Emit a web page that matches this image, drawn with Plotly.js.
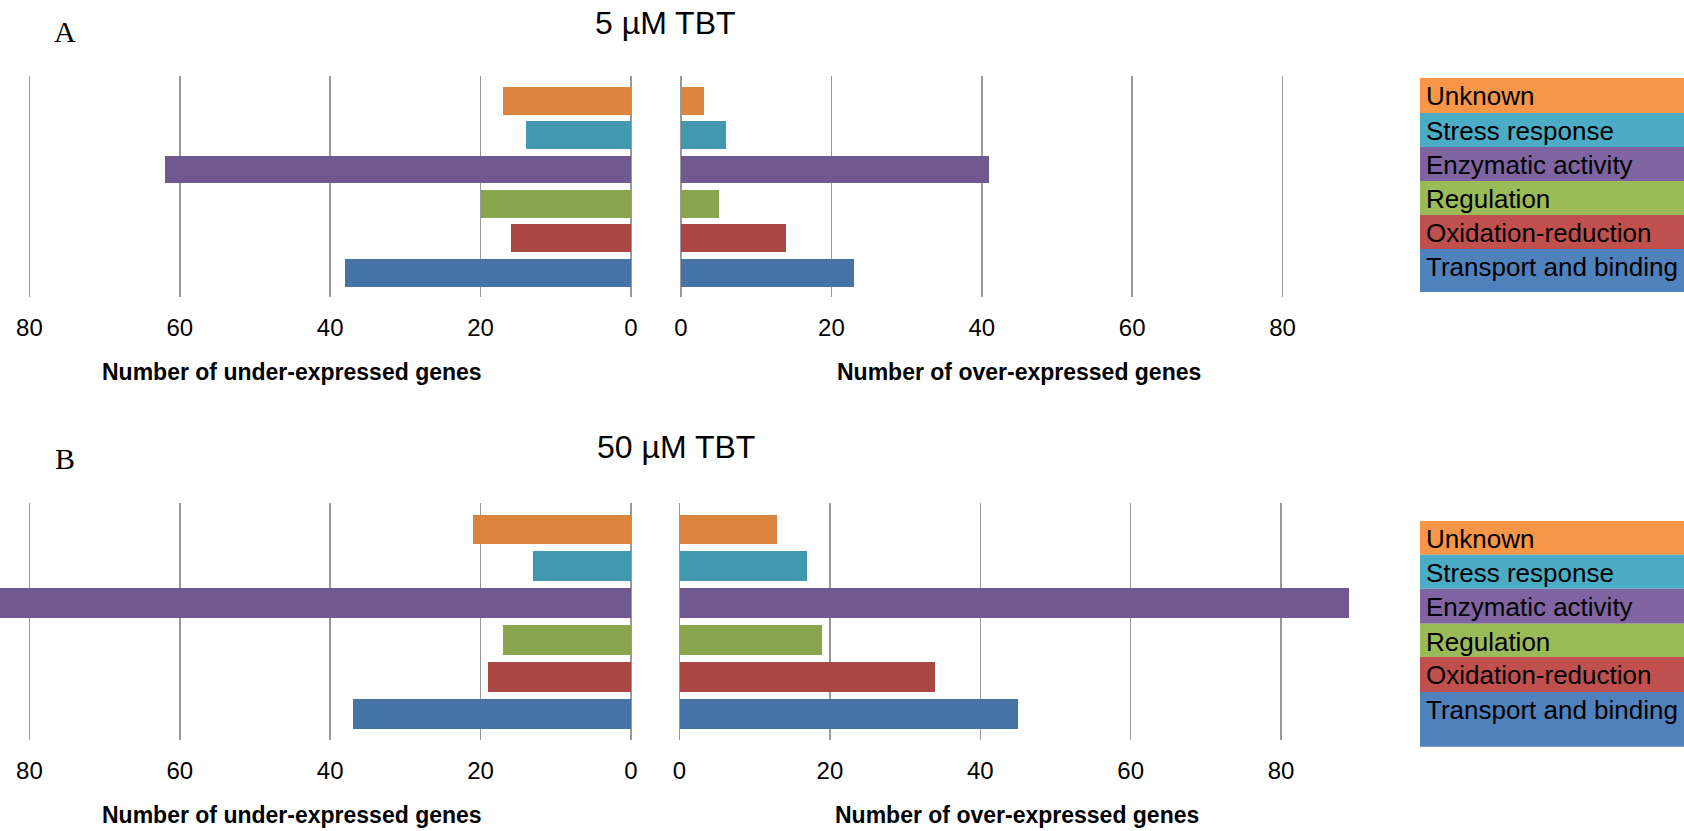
<!DOCTYPE html>
<html>
<head>
<meta charset="utf-8">
<script src="https://cdn.plot.ly/plotly-3.0.1.min.js"></script>
<style>html,body{margin:0;padding:0;background:#fff;}#chart{width:1684px;height:831px;}</style>
</head>
<body>
<div id="chart"></div>
<script>
// ---- data ----
const categories = ['Unknown', 'Stress response', 'Enzymatic activity', 'Regulation', 'Oxidation-reduction', 'Transport and binding'];
const under5uM = [17, 14, 62, 20, 16, 38];
const over5uM = [3, 6, 41, 5, 14, 23];
const under50uM = [21, 13, 86, 17, 19, 37];
const over50uM = [13, 17, 89, 19, 34, 45];
const tickValues = [0, 20, 40, 60, 80];
const panelTitles = ['5 \u00B5M TBT', '50 \u00B5M TBT'];
const panelLetters = ['A', 'B'];
const underTitle = 'Number of under-expressed genes';
const overTitle = 'Number of over-expressed genes';

// ---- styling ----
const barColors = ['#DB843D', '#4198AF', '#71588F', '#89A54E', '#AA4643', '#4572A7'];
const legendColors = ['#F79646', '#4BACC6', '#8064A2', '#9BBB59', '#C0504D', '#4F81BD'];
const W = 1684, H = 831;
const px = x => x / W;
const py = y => 1 - y / H;
const FONT = 'Liberation Sans, Arial, sans-serif';
const PXU = 7.52; // px per unit
const leftZero = 631;
const rightEnd = 1400;
const pad = 2; // px so the zero gridline is drawn inside the domain

const catOrder = categories.slice().reverse();

function barTrace(vals, xa, ya) {
  return {
    type: 'bar', orientation: 'h',
    x: vals, y: categories,
    xaxis: xa, yaxis: ya,
    width: 0.81,
    marker: {color: barColors, line: {width: 0}},
    hoverinfo: 'x+y', showlegend: false
  };
}

const data = [
  barTrace(under5uM, 'x', 'y'),
  barTrace(over5uM, 'x2', 'y'),
  barTrace(under50uM, 'x3', 'y3'),
  barTrace(over50uM, 'x4', 'y3')
];

function xAxis(domain, range, anchor) {
  return {
    domain: domain, range: range, anchor: anchor,
    tickmode: 'array', tickvals: tickValues, ticktext: tickValues.map(String),
    showgrid: true, gridcolor: '#999999', gridwidth: 1.5,
    zeroline: false, showline: false, ticks: '',
    ticklabelstandoff: 14,
    tickfont: {family: FONT, size: 24, color: '#000'},
    fixedrange: true
  };
}
function yAxis(domain, anchor) {
  return {
    domain: domain, anchor: anchor, type: 'category',
    categoryorder: 'array', categoryarray: catOrder,
    range: [-0.71, 5.71],
    showticklabels: false, showgrid: false, zeroline: false, showline: false, ticks: '',
    fixedrange: true
  };
}

const rA = 681, rB = 679.5;
function leftAxis(anchor) {
  return xAxis([0, px(leftZero + pad)], [leftZero / PXU, -pad / PXU], anchor);
}
function rightAxis(zero, anchor) {
  return xAxis([px(zero - pad), px(rightEnd)], [-pad / PXU, (rightEnd - zero) / PXU], anchor);
}

const layout = {
  width: W, height: H,
  margin: {l: 0, r: 0, t: 0, b: 0},
  paper_bgcolor: '#fff', plot_bgcolor: 'rgba(0,0,0,0)',
  bargap: 0,
  xaxis: leftAxis('y'),
  xaxis2: rightAxis(rA, 'y'),
  xaxis3: leftAxis('y3'),
  xaxis4: rightAxis(rB, 'y3'),
  yaxis: yAxis([py(297), py(76.3)], 'x'),
  yaxis3: yAxis([py(740), py(503.3)], 'x3'),
  shapes: [],
  annotations: []
};

// panel texts
const panels = [
  {titleX: 665, titleY: 23, letterX: 65, letterY: 31, axTitleY: 372, underX: 292, overX: 1019,
   legendRows: [78, 113, 147, 181, 215, 249, 292]},
  {titleX: 676, titleY: 447, letterX: 65, letterY: 458, axTitleY: 815, underX: 292, overX: 1017,
   legendRows: [521, 554.7, 588.7, 623.7, 657, 692, 746.7]}
];
panels.forEach((p, k) => {
  layout.annotations.push({xref: 'paper', yref: 'paper', x: px(p.titleX), y: py(p.titleY),
    xanchor: 'center', yanchor: 'middle', showarrow: false, text: panelTitles[k],
    font: {family: FONT, size: 32, color: '#000'}});
  layout.annotations.push({xref: 'paper', yref: 'paper', x: px(p.letterX), y: py(p.letterY),
    xanchor: 'center', yanchor: 'middle', showarrow: false, text: panelLetters[k],
    font: {family: 'Liberation Serif, Times New Roman, serif', size: 30, color: '#000'}});
  layout.annotations.push({xref: 'paper', yref: 'paper', x: px(p.underX), y: py(p.axTitleY),
    xanchor: 'center', yanchor: 'middle', showarrow: false, text: '<b>' + underTitle + '</b>',
    font: {family: FONT, size: 23, color: '#000'}});
  layout.annotations.push({xref: 'paper', yref: 'paper', x: px(p.overX), y: py(p.axTitleY),
    xanchor: 'center', yanchor: 'middle', showarrow: false, text: '<b>' + overTitle + '</b>',
    font: {family: FONT, size: 23, color: '#000'}});
  categories.forEach((c, i) => {
    const top = p.legendRows[i], bot = p.legendRows[i + 1];
    layout.shapes.push({type: 'rect', xref: 'paper', yref: 'paper',
      x0: px(1420), x1: 1, y0: py(bot), y1: py(top),
      fillcolor: legendColors[i], line: {width: 0}, layer: 'below'});
    layout.annotations.push({xref: 'paper', yref: 'paper', x: px(1424), y: py(top + 18),
      xanchor: 'left', yanchor: 'middle', showarrow: false, text: c,
      font: {family: FONT, size: 26, color: '#000'}});
  });
});

Plotly.newPlot('chart', data, layout, {displayModeBar: false, staticPlot: true});
</script>
</body>
</html>
